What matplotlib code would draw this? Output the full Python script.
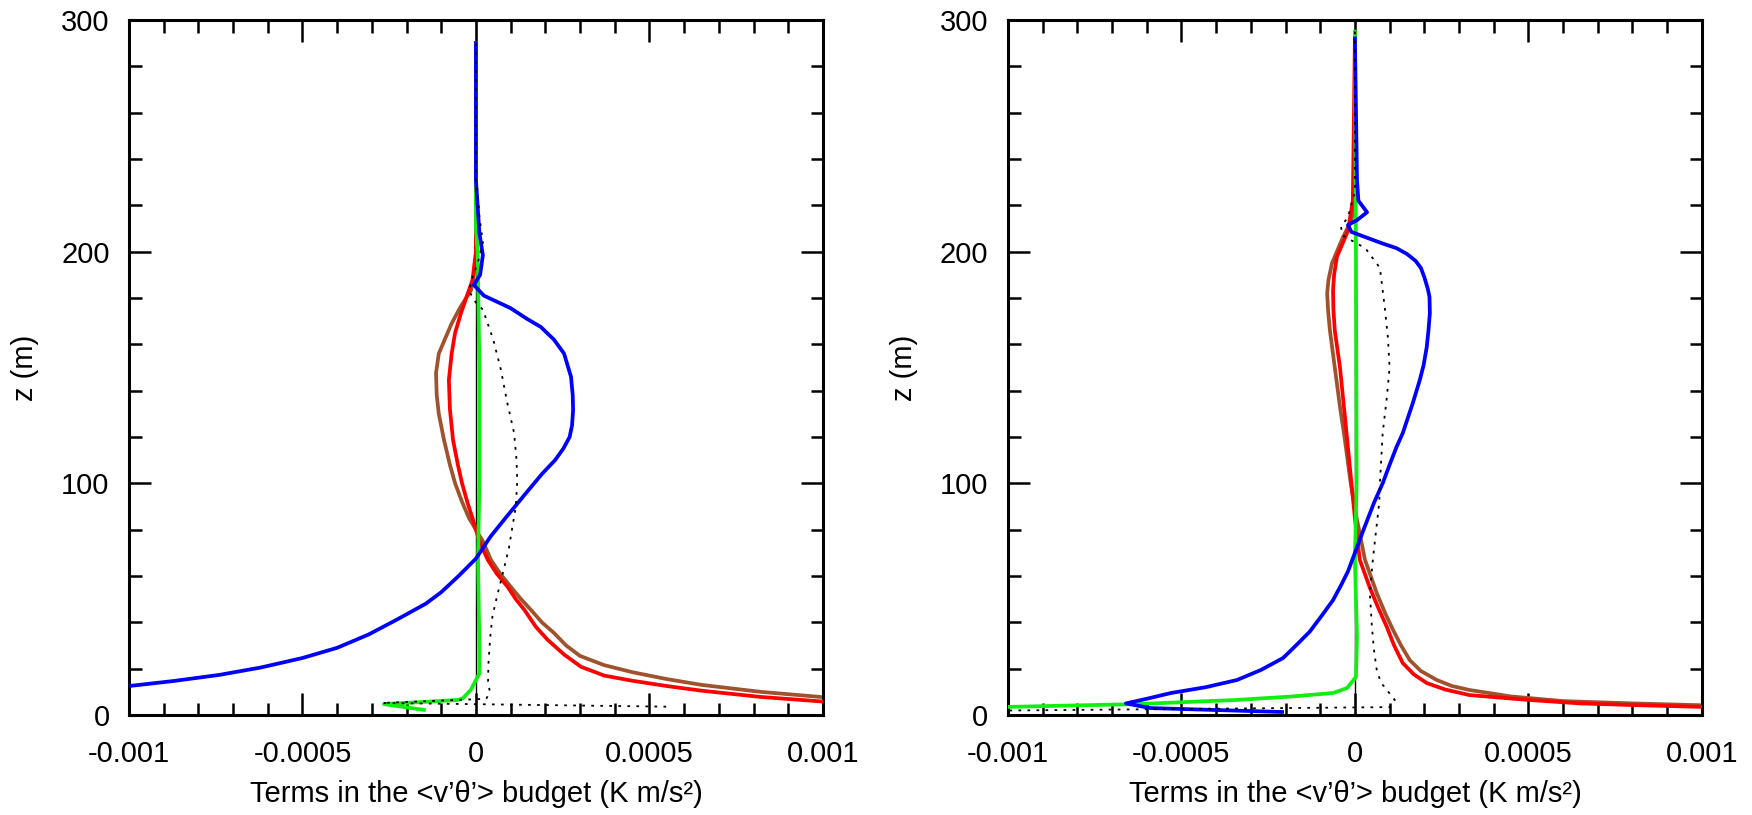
import matplotlib
matplotlib.use('Agg')
import matplotlib.pyplot as plt
from matplotlib.ticker import MultipleLocator, FuncFormatter

plt.rcParams['font.family'] = ['Liberation Sans', 'DejaVu Sans']

# ---------------- left panel profiles (x = budget term, z = height in m) ----------------
left_blue_z = [290, 231, 208, 198.5, 190, 185.6, 181, 175.6, 171, 167.5, 162, 156, 146, 138,
               131.6, 125, 120, 115, 110, 104, 95, 85, 77, 67.5, 60, 53, 48, 41, 34.7, 29, 24.6,
               20.5, 17.3, 14.7, 12.5, 11]
left_blue_x = [0, 0, 0.00001, 0.00002, 0.000012, -0.000006, 0.000023, 0.0001, 0.000147, 0.000187,
               0.000225, 0.000254, 0.000274, 0.000279, 0.00028, 0.000277, 0.00027, 0.000252,
               0.000228, 0.00019, 0.00014, 0.000085, 0.000042, 0, -0.00005, -0.0001, -0.000145,
               -0.00023, -0.00031, -0.0004, -0.0005, -0.00062, -0.00074, -0.00087, -0.001,
               -0.0011]

left_red_z = [290, 200, 187.7, 180, 173.5, 165, 156, 144.6, 132, 118.7, 108, 100, 92, 85, 75,
              67, 61, 55.4, 50, 45.3, 38, 32.4, 26, 20.8, 17, 14.8, 12.5, 10.5, 7.8, 5.8, 5.2]
left_red_x = [0, 0, -0.00001, -0.000028, -0.000043, -0.00006, -0.00007, -0.000078, -0.000075,
              -0.000066, -0.000052, -0.00004, -0.000025, -0.00001, 0.00001, 0.000034, 0.00006,
              0.000091, 0.000115, 0.00014, 0.000173, 0.000207, 0.000255, 0.000303, 0.00037,
              0.00045, 0.00055, 0.00065, 0.00082, 0.001, 0.0011]

left_brown_z = [290, 195, 183.4, 176, 169, 162, 156, 147.6, 138, 130, 118.7, 108, 100, 92, 85,
                75, 67, 61, 55.4, 50, 45.3, 40, 35.4, 30, 25.5, 21.5, 18.5, 15.5, 13, 10, 7.7, 7]
left_brown_x = [0, 0, -0.000014, -0.000045, -0.00007, -0.00009, -0.000107, -0.000115, -0.000113,
                -0.000107, -0.000092, -0.000075, -0.00006, -0.00004, -0.00002, 0.00002, 0.000043,
                0.00007, 0.0001, 0.00013, 0.000159, 0.00019, 0.000225, 0.00026, 0.0003,
                0.00037, 0.00045, 0.00055, 0.00065, 0.00082, 0.001, 0.0011]

left_green_z = [290, 210, 200, 150, 100, 67, 30, 18, 11, 7.3, 6.5, 4.7, 2.2]
left_green_x = [0, 0, 0.000005, 0.00001, 0.00001, 0.000006, 0.00001, 0.00001, -0.000014,
                -0.000037, -0.00005, -0.000265, -0.00015]

left_dot_z = [290, 230, 226, 215, 204, 195, 189, 183, 178, 175, 162, 149, 135, 121.7, 110, 101,
              90, 82, 72, 62.7, 52, 43, 35, 29, 22, 14.5, 10, 7, 5.2, 3.6]
left_dot_x = [0, 0, 0.000005, 0.00001, 0.00002, 0.000005, -0.00001, -0.00002, 0, 0.00002,
              0.00005, 0.000072, 0.00009, 0.00011, 0.000117, 0.000119, 0.000115, 0.000106,
              0.000095, 0.00008, 0.000062, 0.000048, 0.000042, 0.000039, 0.000036, 0.000035,
              0.00004, 0.00003, -0.00027, 0.00055]

# ---------------- right panel profiles ----------------
right_blue_z = [292, 231, 222, 217, 213.6, 211.5, 208.5, 206, 203.5, 201.5, 199, 196, 193, 189,
                184, 180.4, 173.5, 166, 158.8, 151, 144.6, 134.7, 128, 121.7, 115.7, 108, 100,
                91.6, 80, 70, 62, 56, 49.6, 43, 36, 30, 24.6, 19.5, 15.1, 12, 9.5, 7, 5, 3, 1.3]
right_blue_x = [0, 0.000006, 0.00001, 0.000035, 0.000006, -0.00002, -0.00001, 0.000035, 0.00008,
                0.00012, 0.00015, 0.000175, 0.00019, 0.0002, 0.00021, 0.000215, 0.000216,
                0.000212, 0.000207, 0.000198, 0.000187, 0.000167, 0.000152, 0.000138, 0.00012,
                0.0001, 0.00008, 0.000055, 0.000025, 0, -0.00002, -0.00004, -0.000063,
                -0.000095, -0.00013, -0.00017, -0.000207, -0.00027, -0.00034, -0.00043,
                -0.00053, -0.0006, -0.00066, -0.00059, -0.00021]

right_red_z = [292, 222, 209, 197.7, 190, 183.4, 175, 166, 150, 135, 120, 100, 85, 67, 55, 46,
               38, 30, 22.4, 17.5, 13.8, 11, 8.6, 6.5, 5, 4.3, 3.5, 3.2]
right_red_x = [0, -0.000006, -0.00002, -0.000052, -0.00006, -0.000063, -0.000062, -0.000058,
               -0.000043, -0.000033, -0.000023, -0.00001, 0, 0.000014, 0.000043, 0.000068,
               0.000092, 0.000113, 0.000138, 0.00017, 0.000207, 0.00026, 0.00033, 0.0005,
               0.00065, 0.0008, 0.001, 0.0012]

right_brown_z = [292, 221, 213.6, 206, 195, 188, 182, 174, 166, 150, 133, 120, 100, 85, 67,
                 52.6, 44, 36.7, 30, 23.7, 19, 15.1, 12.5, 10.8, 8, 6, 5, 4.2, 3.9]
right_brown_x = [0, 0, -0.00001, -0.000035, -0.000066, -0.000076, -0.00008, -0.000077,
                 -0.000072, -0.000058, -0.000043, -0.00003, -0.000012, 0.000005, 0.000029,
                 0.000063, 0.000087, 0.00011, 0.000133, 0.000158, 0.00019, 0.000236, 0.00028,
                 0.00033, 0.00045, 0.0006, 0.0008, 0.001, 0.0012]

right_green_z = [295, 200, 100, 67, 33.7, 16.4, 11.6, 9.5, 8, 6.5, 4.7, 3.5, 3.3]
right_green_x = [0, 0.000003, 0.000005, 0, 0.000006, 0.000003, -0.000023, -0.000063, -0.00018,
                 -0.00034, -0.00063, -0.001, -0.0012]

right_dot_z = [295, 230, 226, 215, 210.6, 207, 204, 201.5, 193, 176, 163, 150, 137, 121.7, 100,
               91.6, 67.5, 52.6, 38, 28, 19.4, 14, 10.8, 6.5, 3.4, 1.8]
right_dot_x = [0, 0, 0, -0.00002, -0.00004, -0.000035, 0, 0.00003, 0.000072, 0.000086, 0.000095,
               0.0001, 0.000092, 0.00008, 0.000072, 0.00007, 0.000052, 0.000043, 0.000049,
               0.000055, 0.000063, 0.000075, 0.000092, 0.000115, 0.0001, -0.0011]

xlabel_text = "Terms in the <v\u2019\u03b8\u2019> budget (K m/s\u00b2)"
ylabel_text = "z (m)"

fig = plt.figure(figsize=(17.52, 8.15), dpi=100)
ax_l = fig.add_axes([0.0736, 0.1227, 0.3961, 0.8528])
ax_r = fig.add_axes([0.5753, 0.1227, 0.3961, 0.8528])

panels = [
    (ax_l, left_blue_x, left_blue_z, left_red_x, left_red_z, left_brown_x, left_brown_z,
     left_green_x, left_green_z, left_dot_x, left_dot_z),
    (ax_r, right_blue_x, right_blue_z, right_red_x, right_red_z, right_brown_x, right_brown_z,
     right_green_x, right_green_z, right_dot_x, right_dot_z),
]

for (ax, bx, bz, rx, rz, brx, brz, gx, gz, dx, dz) in panels:
    ax.plot([0, 0], [0, 300], color='black', lw=1.0, zorder=1)
    ax.plot(brx, brz, color='#a0522d', lw=2.7, zorder=2, solid_joinstyle='round')
    ax.plot(rx, rz, color='#ff0000', lw=2.7, zorder=3, solid_joinstyle='round')
    ax.plot(gx, gz, color='#11ee11', lw=2.7, zorder=4, solid_joinstyle='round')
    ax.plot(bx, bz, color='#0000ff', lw=2.7, zorder=5, solid_joinstyle='round')
    ax.plot(dx, dz, color='black', lw=1.3, ls=(0, (1.5, 3.5)), zorder=6)

    ax.set_xlim(-0.001, 0.001)
    ax.set_ylim(0, 300)
    ax.xaxis.set_major_locator(MultipleLocator(0.0005))
    ax.xaxis.set_minor_locator(MultipleLocator(0.0001))
    ax.yaxis.set_major_locator(MultipleLocator(100))
    ax.yaxis.set_minor_locator(MultipleLocator(20))
    ax.xaxis.set_major_formatter(FuncFormatter(lambda v, p: '%g' % round(v, 6)))
    ax.yaxis.set_major_formatter(FuncFormatter(lambda v, p: '%g' % v))

    ax.tick_params(which='both', direction='in', top=True, right=True, width=1.8)
    ax.tick_params(which='major', length=16, labelsize=21)
    ax.tick_params(which='minor', length=9)
    ax.tick_params(axis='x', which='major', pad=18)
    ax.tick_params(axis='y', which='major', pad=14)
    for sp in ax.spines.values():
        sp.set_linewidth(2.2)

    ax.set_xlabel(xlabel_text, fontsize=21, labelpad=9)
    ax.set_ylabel(ylabel_text, fontsize=21, labelpad=16)

fig.savefig('out.png', dpi=100)
